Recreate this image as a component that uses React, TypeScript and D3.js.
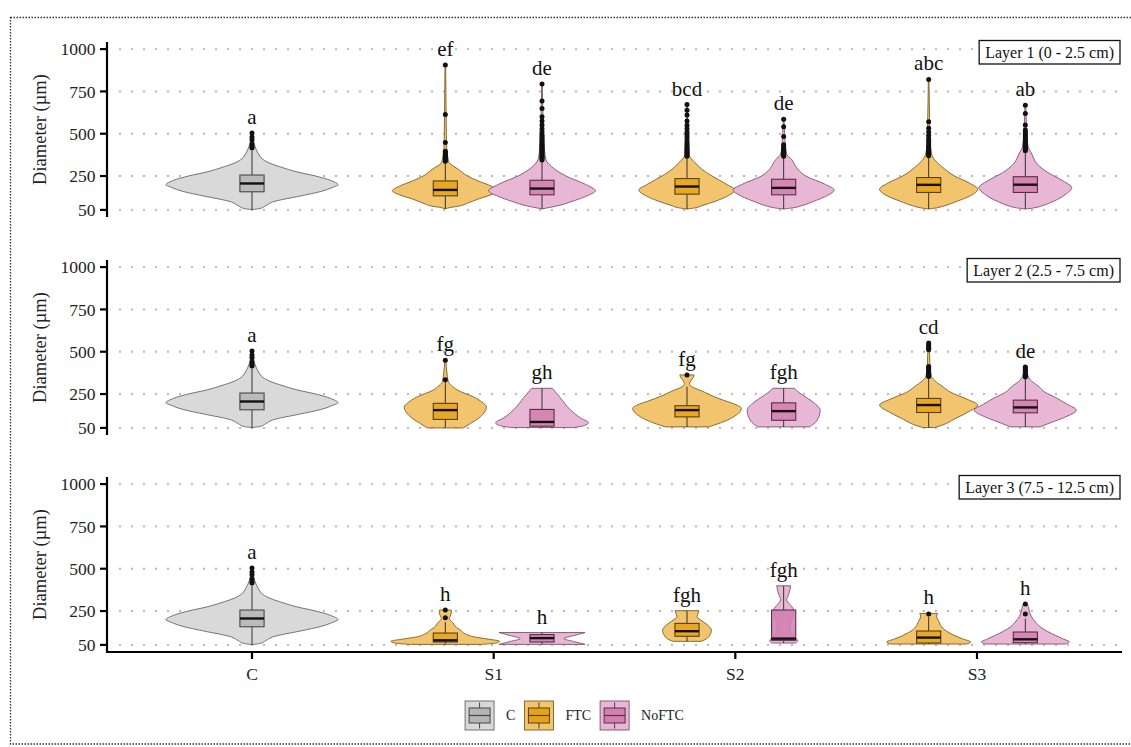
import React, { useEffect, useRef } from "react";
import * as d3 from "d3";

// ---- data -------------------------------------------------------------
const categories = ["C", "S1", "S2", "S3"];
const treatments = ["C", "FTC", "NoFTC"];
const yTicks = [50, 250, 500, 750, 1000];
const layerTitles = ["Layer 1 (0 - 2.5 cm)", "Layer 2 (2.5 - 7.5 cm)", "Layer 3 (7.5 - 12.5 cm)"];

type Pair = [number, number];
type Stats = [number, number, number, number, number]; // lower whisker, q1, median, q3, upper whisker
interface Violin {
  cat: string;
  trt: string;
  width: number; // max half width, in category steps
  profile: Pair[]; // [diameter, relative density]
  stats: Stats;
  outliers: number[];
  letter: string;
}

// control plots are shared by every layer
const controlProfile: Pair[] = [
  [52, 0], [58, 0.09], [75, 0.16], [97, 0.24], [132, 0.56], [160, 0.81], [184, 0.94], [198, 1],
  [225, 0.91], [250, 0.74], [275, 0.52], [299, 0.36], [325, 0.21], [347, 0.13], [386, 0.07],
  [425, 0.035], [460, 0.017], [505, 0.006],
];
const controlStats: Stats = [52, 157, 206, 256, 400];
const controlOutliers = [415, 425, 440, 465, 480, 505];

const layer1: Violin[] = [
  { cat: "C", trt: "C", width: 0.356, profile: controlProfile, stats: controlStats, outliers: controlOutliers, letter: "a" },
  {
    cat: "S1", trt: "FTC", width: 0.219, letter: "ef",
    profile: [[57, 0], [65, 0.11], [72, 0.25], [90, 0.42], [114, 0.62], [140, 0.87], [163, 1], [190, 0.87], [221, 0.62], [250, 0.42], [289, 0.25], [328, 0.075], [360, 0.047], [400, 0.028], [500, 0.019], [614, 0.015], [906, 0.006]],
    stats: [57, 133, 168, 221, 330],
    outliers: [337, 345, 352, 360, 367, 375, 382, 390, 396, 448, 614, 906],
  },
  {
    cat: "S1", trt: "NoFTC", width: 0.221, letter: "de",
    profile: [[56, 0], [65, 0.15], [75, 0.3], [100, 0.56], [130, 0.82], [163, 1], [200, 0.82], [250, 0.45], [290, 0.24], [320, 0.13], [347, 0.075], [400, 0.047], [500, 0.028], [600, 0.019], [700, 0.011], [794, 0.006]],
    stats: [56, 139, 176, 225, 340],
    outliers: [345, 352, 360, 367, 375, 382, 390, 397, 405, 412, 420, 428, 435, 445, 455, 465, 475, 485, 495, 512, 530, 551, 575, 600, 649, 693, 794],
  },
  {
    cat: "S2", trt: "FTC", width: 0.199, letter: "bcd",
    profile: [[55, 0], [62, 0.17], [75, 0.31], [100, 0.58], [130, 0.83], [168, 1], [200, 0.83], [250, 0.52], [290, 0.31], [328, 0.17], [376, 0.042], [450, 0.025], [550, 0.017], [672, 0.006]],
    stats: [55, 143, 188, 235, 360],
    outliers: [367, 375, 382, 390, 397, 405, 412, 420, 430, 440, 450, 465, 480, 495, 510, 530, 550, 575, 610, 639, 672],
  },
  {
    cat: "S2", trt: "NoFTC", width: 0.209, letter: "de",
    profile: [[55, 0], [62, 0.18], [75, 0.36], [100, 0.59], [130, 0.83], [168, 1], [200, 0.83], [250, 0.44], [290, 0.28], [347, 0.16], [380, 0.06], [440, 0.03], [500, 0.02], [586, 0.006]],
    stats: [55, 139, 180, 231, 360],
    outliers: [367, 375, 382, 390, 397, 405, 412, 425, 435, 483, 541, 586],
  },
  {
    cat: "S3", trt: "FTC", width: 0.203, letter: "abc",
    profile: [[55, 0], [62, 0.16], [75, 0.33], [100, 0.57], [135, 0.86], [172, 1], [210, 0.82], [250, 0.53], [300, 0.29], [347, 0.12], [380, 0.06], [450, 0.03], [570, 0.02], [700, 0.012], [821, 0.006]],
    stats: [55, 153, 198, 241, 365],
    outliers: [370, 378, 386, 394, 402, 410, 418, 428, 440, 455, 470, 490, 510, 532, 571, 821],
  },
  {
    cat: "S3", trt: "NoFTC", width: 0.192, letter: "ab",
    profile: [[55, 0], [62, 0.19], [75, 0.37], [100, 0.6], [140, 0.86], [182, 1], [220, 0.82], [270, 0.49], [320, 0.26], [386, 0.13], [420, 0.065], [500, 0.032], [600, 0.017], [668, 0.006]],
    stats: [55, 153, 199, 246, 390],
    outliers: [400, 406, 414, 422, 430, 440, 450, 460, 470, 480, 490, 500, 510, 522, 551, 619, 668],
  },
];

const layer2: Violin[] = [
  { cat: "C", trt: "C", width: 0.356, profile: controlProfile, stats: controlStats, outliers: controlOutliers, letter: "a" },
  {
    cat: "S1", trt: "FTC", width: 0.17, letter: "fg",
    profile: [[50, 0.44], [76, 0.61], [115, 0.85], [175, 1], [195, 0.93], [234, 0.68], [274, 0.29], [300, 0.15], [323, 0.073], [380, 0.037], [450, 0.012]],
    stats: [50, 100, 155, 195, 323],
    outliers: [335, 450],
  },
  {
    cat: "S1", trt: "NoFTC", width: 0.192, letter: "gh",
    profile: [[52, 0.65], [60, 0.86], [80, 1], [110, 0.82], [160, 0.6], [230, 0.39], [284, 0.22]],
    stats: [52, 60, 85, 159, 284],
    outliers: [],
  },
  {
    cat: "S2", trt: "FTC", width: 0.225, letter: "fg",
    profile: [[56, 0.4], [90, 0.7], [120, 0.88], [165, 1], [190, 0.88], [210, 0.7], [240, 0.46], [270, 0.26], [293, 0.09], [310, 0.046], [330, 0.073], [350, 0.12], [363, 0.13]],
    stats: [56, 115, 155, 181, 293],
    outliers: [363],
  },
  {
    cat: "S2", trt: "NoFTC", width: 0.151, letter: "fgh",
    profile: [[56, 0.71], [90, 0.9], [155, 1], [200, 0.82], [240, 0.55], [270, 0.36], [284, 0.3]],
    stats: [56, 95, 149, 198, 284],
    outliers: [],
  },
  {
    cat: "S3", trt: "FTC", width: 0.203, letter: "cd",
    profile: [[52, 0.12], [70, 0.31], [100, 0.51], [140, 0.78], [185, 1], [220, 0.78], [260, 0.45], [293, 0.29], [330, 0.12], [353, 0.06], [400, 0.03], [480, 0.02], [551, 0.008]],
    stats: [52, 141, 185, 224, 345],
    outliers: [353, 362, 370, 378, 386, 395, 404, 412, 511, 520, 530, 540, 551],
  },
  {
    cat: "S3", trt: "NoFTC", width: 0.211, letter: "de",
    profile: [[56, 0.29], [80, 0.49], [110, 0.75], [155, 1], [190, 0.82], [230, 0.59], [260, 0.39], [293, 0.27], [333, 0.1], [370, 0.04], [410, 0.01]],
    stats: [56, 139, 171, 214, 340],
    outliers: [350, 358, 366, 374, 382, 390, 398, 405, 410],
  },
];

const layer3: Violin[] = [
  { cat: "C", trt: "C", width: 0.356, profile: controlProfile, stats: controlStats, outliers: controlOutliers, letter: "a" },
  {
    cat: "S1", trt: "FTC", width: 0.225, letter: "h",
    profile: [[53, 0.64], [60, 0.92], [71, 1], [85, 0.77], [96, 0.55], [115, 0.37], [137, 0.28], [160, 0.18], [177, 0.15], [195, 0.09], [206, 0.073], [220, 0.09], [240, 0.11], [256, 0.11]],
    stats: [53, 67, 77, 120, 185],
    outliers: [210, 256],
  },
  {
    cat: "S1", trt: "NoFTC", width: 0.178, letter: "h",
    profile: [[53, 1], [70, 0.74], [87, 0.51], [105, 0.74], [123, 1]],
    stats: [53, 67, 90, 111, 123],
    outliers: [],
  },
  {
    cat: "S2", trt: "FTC", width: 0.101, letter: "fgh",
    profile: [[71, 0.57], [80, 0.73], [100, 0.9], [137, 1], [170, 0.82], [200, 0.53], [216, 0.41], [235, 0.45], [252, 0.49]],
    stats: [71, 101, 131, 177, 252],
    outliers: [],
  },
  {
    cat: "S2", trt: "NoFTC", width: 0.058, letter: "fgh",
    profile: [[61, 0.86], [75, 1], [100, 0.71], [150, 0.43], [200, 0.57], [256, 0.71], [290, 0.43], [316, 0.21], [350, 0.36], [399, 0.5]],
    stats: [61, 77, 87, 256, 399],
    outliers: [],
  },
  {
    cat: "S3", trt: "FTC", width: 0.174, letter: "h",
    profile: [[55, 0.9], [67, 1], [85, 0.81], [107, 0.6], [130, 0.43], [156, 0.31], [190, 0.24], [216, 0.19], [236, 0.21]],
    stats: [55, 61, 93, 132, 215],
    outliers: [232],
  },
  {
    cat: "S3", trt: "NoFTC", width: 0.182, letter: "h",
    profile: [[55, 0.91], [68, 1], [85, 0.86], [107, 0.68], [130, 0.5], [156, 0.34], [185, 0.23], [216, 0.14], [250, 0.09], [276, 0.07], [292, 0.045]],
    stats: [55, 63, 83, 126, 205],
    outliers: [232, 292],
  },
];

const layers = [layer1, layer2, layer3];

// ---- styling ----------------------------------------------------------
const violinFill: Record<string, string> = { C: "#d9d9d9", FTC: "#f2c46e", NoFTC: "#e8b7d6" };
const violinStroke: Record<string, string> = { C: "#666666", FTC: "#7a5e28", NoFTC: "#7d526f" };
const boxFill: Record<string, string> = { C: "#b5b5b5", FTC: "#e6a31a", NoFTC: "#d37fb0" };
const boxStroke: Record<string, string> = { C: "#474747", FTC: "#58420f", NoFTC: "#5a2e48" };
const dodge: Record<string, number> = { C: 0, FTC: -0.2, NoFTC: 0.2 };

const FONT = "'Liberation Serif', 'Times New Roman', serif";
const W = 1131;
const H = 747;
const plotLeft = 107;
const plotRight = 1122;
const panelTops = [42, 260, 477];
const panelH = 175;

export default function App() {
  const ref = useRef<SVGSVGElement | null>(null);

  useEffect(() => {
    const svg = d3.select(ref.current);
    svg.selectAll("*").remove();

    // outer dotted frame (its right side runs past the page edge)
    svg.append("rect")
      .attr("x", 10.5).attr("y", 17.5).attr("width", 1140).attr("height", 726.5)
      .attr("fill", "none").attr("stroke", "#333").attr("stroke-width", 1.3)
      .attr("stroke-dasharray", "1.5,1.5");

    const x = d3.scalePoint<string>().domain(categories).range([plotLeft, plotRight]).padding(0.6);
    const step = x.step();

    layers.forEach((violins, li) => {
      const top = panelTops[li];
      const y = d3.scaleLinear().domain([8, 1042]).range([top + panelH, top]);
      const g = svg.append("g");

      // dotted horizontal grid
      g.selectAll("line.grid").data(yTicks).join("line")
        .attr("x1", plotLeft + 13).attr("x2", plotRight)
        .attr("y1", (d) => y(d)).attr("y2", (d) => y(d))
        .attr("stroke", "#bdbdbd").attr("stroke-width", 2.4)
        .attr("stroke-linecap", "round").attr("stroke-dasharray", "0,12");

      // violins
      violins.forEach((v) => {
        const cx = (x(v.cat) as number) + dodge[v.trt] * step;
        const hw = v.width * step;
        const area = d3.area<Pair>()
          .y((d) => y(d[0]))
          .x0((d) => cx - d[1] * hw)
          .x1((d) => cx + d[1] * hw)
          .curve(d3.curveMonotoneY);
        g.append("path")
          .attr("d", area(v.profile) as string)
          .attr("fill", violinFill[v.trt])
          .attr("stroke", violinStroke[v.trt])
          .attr("stroke-width", 0.9);
      });

      // boxplots
      violins.forEach((v) => {
        const cx = (x(v.cat) as number) + dodge[v.trt] * step;
        const bw = 0.05 * step;
        const [lo, q1, med, q3, hi] = v.stats;
        const bg = g.append("g");
        bg.append("line").attr("x1", cx).attr("x2", cx).attr("y1", y(lo)).attr("y2", y(q1))
          .attr("stroke", "#222").attr("stroke-width", 0.9);
        bg.append("line").attr("x1", cx).attr("x2", cx).attr("y1", y(q3)).attr("y2", y(hi))
          .attr("stroke", "#222").attr("stroke-width", 0.9);
        bg.append("rect").attr("x", cx - bw).attr("width", 2 * bw)
          .attr("y", y(q3)).attr("height", y(q1) - y(q3))
          .attr("fill", boxFill[v.trt]).attr("fill-opacity", 0.88)
          .attr("stroke", boxStroke[v.trt]).attr("stroke-width", 1.1);
        bg.append("line").attr("x1", cx - bw).attr("x2", cx + bw).attr("y1", y(med)).attr("y2", y(med))
          .attr("stroke", "#111").attr("stroke-width", 2.4);
        bg.selectAll("circle").data(v.outliers).join("circle")
          .attr("cx", cx).attr("cy", (d) => y(d)).attr("r", 2.5).attr("fill", "#111");

        const topVal = Math.max(hi, ...v.outliers, v.profile[v.profile.length - 1][0]);
        g.append("text")
          .attr("x", cx).attr("y", y(topVal) - 9)
          .attr("text-anchor", "middle")
          .attr("font-family", FONT).attr("font-size", 21).attr("fill", "#111")
          .text(v.letter);
      });

      // y axis
      g.append("line").attr("x1", plotLeft).attr("x2", plotLeft)
        .attr("y1", top).attr("y2", top + panelH + (li === 2 ? 1 : 0))
        .attr("stroke", "#000").attr("stroke-width", 2.2);
      g.selectAll("line.tick").data(yTicks).join("line")
        .attr("x1", plotLeft - 7).attr("x2", plotLeft)
        .attr("y1", (d) => y(d)).attr("y2", (d) => y(d))
        .attr("stroke", "#000").attr("stroke-width", 2.2);
      g.selectAll("text.tick").data(yTicks).join("text")
        .attr("x", plotLeft - 11.5).attr("y", (d) => y(d))
        .attr("dy", "0.35em")
        .attr("text-anchor", "end")
        .attr("font-family", FONT).attr("font-size", 17.5).attr("fill", "#222")
        .text((d) => String(d));
      g.append("text")
        .attr("transform", `translate(46, ${top + panelH / 2}) rotate(-90)`)
        .attr("text-anchor", "middle")
        .attr("font-family", FONT).attr("font-size", 18.5).attr("fill", "#222")
        .text("Diameter (µm)");

      // layer tag in the top-right corner
      const tag = g.append("g");
      const tagText = tag.append("text")
        .attr("font-family", FONT).attr("font-size", 16).attr("fill", "#111")
        .attr("text-anchor", "end")
        .attr("x", plotRight - 8).attr("y", top + 10.5).attr("dy", "0.35em")
        .text(layerTitles[li]);
      const tw = (tagText.node() as SVGTextElement).getComputedTextLength();
      tag.insert("rect", "text")
        .attr("x", plotRight - 8 - tw - 6).attr("y", top - 1.5)
        .attr("width", tw + 12).attr("height", 23.5)
        .attr("fill", "#fff").attr("stroke", "#111").attr("stroke-width", 1.3);
    });

    // bottom x axis
    const axisY = panelTops[2] + panelH;
    svg.append("line").attr("x1", plotLeft).attr("x2", plotRight)
      .attr("y1", axisY).attr("y2", axisY).attr("stroke", "#000").attr("stroke-width", 2.2);
    categories.forEach((c) => {
      const cx = x(c) as number;
      svg.append("line").attr("x1", cx).attr("x2", cx).attr("y1", axisY).attr("y2", axisY + 7)
        .attr("stroke", "#000").attr("stroke-width", 2.2);
      svg.append("text").attr("x", cx).attr("y", axisY + 28)
        .attr("text-anchor", "middle")
        .attr("font-family", FONT).attr("font-size", 17.5).attr("fill", "#222")
        .text(c);
    });

    // legend
    const keySize = 29;
    const legendY = 701;
    const lg = svg.append("g");
    let cursor = 0;
    treatments.forEach((t) => {
      const item = lg.append("g").attr("transform", `translate(${cursor},${legendY})`);
      item.append("rect").attr("width", keySize).attr("height", keySize)
        .attr("fill", violinFill[t]).attr("stroke", violinStroke[t]).attr("stroke-width", 0.9);
      const mid = keySize / 2;
      item.append("line").attr("x1", mid).attr("x2", mid).attr("y1", 1.5).attr("y2", keySize - 1.5)
        .attr("stroke", "#333").attr("stroke-width", 0.9);
      item.append("rect").attr("x", 4).attr("y", 7).attr("width", keySize - 8).attr("height", 15)
        .attr("fill", boxFill[t]).attr("stroke", boxStroke[t]).attr("stroke-width", 1);
      item.append("line").attr("x1", 4).attr("x2", keySize - 4).attr("y1", 14.5).attr("y2", 14.5)
        .attr("stroke", boxStroke[t]).attr("stroke-width", 1.2);
      const label = item.append("text").attr("x", keySize + 12).attr("y", mid).attr("dy", "0.35em")
        .attr("font-family", FONT).attr("font-size", 14).attr("fill", "#222").text(t);
      const lw = (label.node() as SVGTextElement).getComputedTextLength();
      cursor += keySize + 12 + lw + 9;
    });
    const legendW = cursor - 9;
    lg.attr("transform", `translate(${574.5 - legendW / 2},0)`);
  }, []);

  return (
    <svg
      ref={ref}
      width={W}
      height={H}
      style={{ position: "absolute", left: 0, top: 0, display: "block", background: "#fff" }}
    />
  );
}
